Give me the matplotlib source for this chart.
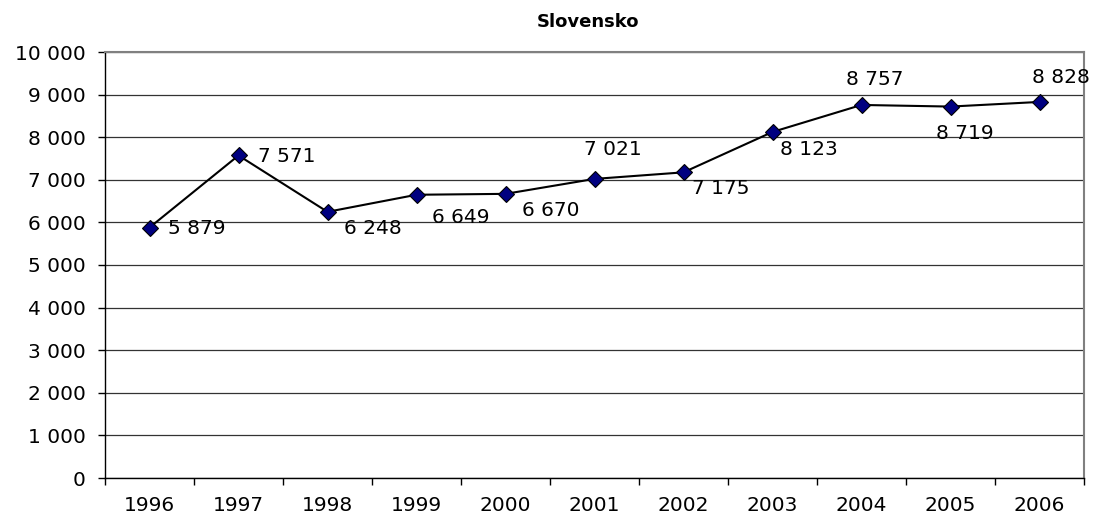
import matplotlib
matplotlib.use("Agg")
import matplotlib.pyplot as plt
import numpy as np

years = ["1996", "1997", "1998", "1999", "2000", "2001", "2002", "2003", "2004", "2005", "2006"]
values = [5879, 7571, 6248, 6649, 6670, 7021, 7175, 8123, 8757, 8719, 8828]
title = "Slovensko"

# label offsets in pixels (dx, dy) -- styling only
label_offsets = [(18, -1), (19, -1), (16, -17), (16, -23), (17, -17),
                 (-11, 29), (9, -16), (8, -18), (-15, 25), (-15, -27), (-7, 24)]

def fmt(v):
    return f"{v:,}".replace(",", " ")

plt.rcParams['font.family'] = ['DejaVu Sans']
fig = plt.figure(figsize=(10.98, 5.20), dpi=100)
ax = fig.add_axes([105/1098, 1 - 478/520, (1084-105)/1098, (478-52)/520])

x = np.arange(len(years))
ax.plot(x, values, color='black', lw=1.5, zorder=3,
        marker='D', markersize=8, markerfacecolor='#000080',
        markeredgecolor='black', markeredgewidth=0.8)

for xi, v, (dx, dy) in zip(x, values, label_offsets):
    ax.annotate(fmt(v), (xi, v), xytext=(dx, dy), textcoords='offset pixels',
                ha='left', va='center', fontsize=14.5, color='black', zorder=4)

ax.set_xlim(-0.5, len(years) - 0.5)
ax.set_ylim(0, 10000)
yt = np.arange(0, 10001, 1000)
ax.set_yticks(yt)
ax.set_yticklabels([fmt(v) for v in yt], fontsize=14.5)
ax.set_xticks(x)
ax.set_xticklabels(years, fontsize=14.5)
ax.set_xticks(np.arange(-0.5, len(years), 1), minor=True)
ax.tick_params(axis='x', which='major', length=0, pad=13)
ax.tick_params(axis='x', which='minor', length=5, width=1, direction='out')
ax.tick_params(axis='y', length=5, width=1, direction='out', pad=9)
ax.yaxis.grid(True, color='#333333', lw=0.9)
ax.set_axisbelow(True)
for s in ['top', 'right']:
    ax.spines[s].set_color('#808080')
    ax.spines[s].set_linewidth(1.5)
for s in ['left', 'bottom']:
    ax.spines[s].set_color('black')
    ax.spines[s].set_linewidth(1)

fig.text(588/1098, 1 - 22/520, title, ha='center', va='center',
         fontsize=13, fontweight='bold')

fig.savefig("out.png", dpi=100)
